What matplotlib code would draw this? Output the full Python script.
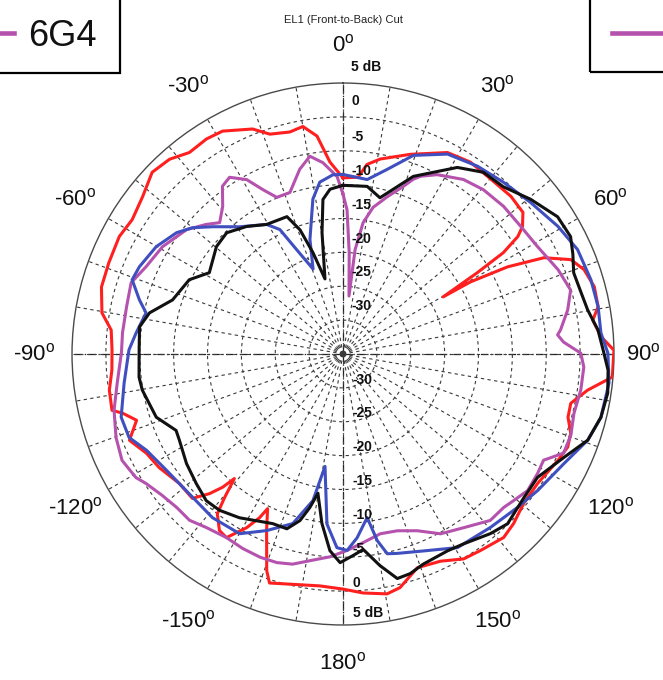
import numpy as np
import matplotlib.pyplot as plt
from matplotlib.patches import Rectangle
from matplotlib.lines import Line2D

plt.rcParams['font.family'] = ['Liberation Sans', 'DejaVu Sans']
plt.rcParams['mathtext.fontset'] = 'custom'
plt.rcParams['mathtext.rm'] = 'Liberation Sans'

# pattern data: angle in degrees (clockwise from 0 at top), level in dB
red_deg = [0, 4.9, 7.2, 10.8, 18.6, 27.4, 33.6, 40.2, 46.8, 51.8, 54.6, 56.1, 57.7, 58.8, 60.3, 60.5,
           62.1, 64.4, 67.5, 70.7, 75, 79.5, 82.3, 86.2, 89.2, 94.9, 98.4, 102.2, 105.7, 109.2, 112.5,
           116.3, 123.6, 129.6, 134.8, 138.8, 145, 149.5, 154.8, 160.8, 166.3, 169.6, 175.2, 180, 185.7,
           197.8, 199.4, 203.4, 206, 207, 209, 212.4, 215, 218.2, 219.5, 221.1, 222.1, 223.7, 226.2,
           231.6, 238.3, 243.2, 248, 252.2, 255, 256.3, 261.2, 266, 271, 275.9, 279.7, 285.5, 291.3,
           297.7, 302.5, 308.1, 313.6, 318.3, 322.7, 327.6, 331.6, 338.1, 341.6, 346.5, 350, 353.2,
           356.1, 360]
red_db = [-9.0, -8.8, -6.8, -5.7, -3.9, -1.5, -1.0, -1.2, -1.0, -1.2, -2.5, -3.9, -7.0, -11.8, -18.0, -13.4,
          -7.5, -2.1, 1.4, 2.7, 3.4, 3.3, 2.2, 3.2, 5.0, 4.9, 1.5, -0.6, -0.5, 0.6, 0.9,
          0.4, -0.5, -0.4, 0.5, 1.0, 0.4, 0.1, -1.2, -1.6, 0.5, 1.0, 0.4, -0.3, -0.6,
          0.5, -1.1, -6.6, -9.6, -7.9, -5.7, -2.9, -3.2, -5.0, -7.5, -10.6, -8.5, -6.5, -4.2,
          -4.2, -3.1, -2.5, -1.0, -3.0, -1.3, 0.1, -0.1, -0.8, -0.9, -0.6, 1.1, 2.0, 2.1,
          2.3, 1.9, 2.6, 3.9, 3.5, 2.4, 2.6, 2.4, 0.8, -0.8, -1.3, -0.9, -2.6,
          -6.6, -9.0]

blue_deg = [0, 7.9, 13.4, 19.5, 27.6, 35.6, 43.1, 51.1, 59.3, 66, 73.3, 79.5, 85.3, 89.8, 96.2, 103.8,
            109.4, 116.4, 125, 131.3, 139.6, 149.4, 157.8, 164.8, 167.5, 169.6, 171.6, 175.6, 178.8,
            181.8, 185.4, 189.1, 191.6, 196.5, 203.4, 209.9, 218.6, 228.9, 236.6, 243.9, 248.7, 254.1,
            262.4, 271.1, 275.8, 281.8, 284.9, 289.4, 293.2, 299.9, 306.1, 310, 314.3, 320.9, 329.5,
            333.1, 336.1, 340.6, 343.9, 349, 352.3, 356.8, 360]
blue_db = [-8.5, -9.0, -7.0, -3.9, -1.7, -0.9, -0.3, 0.6, 1.9, 2.9, 3.2, 3.3, 3.2, 4.1, 4.5, 4.2,
           3.3, 1.4, 0.1, -0.7, -1.4, -1.8, -3.6, -4.5, -4.8, -7.0, -10.6, -7.8, -6.0,
           -6.4, -9.8, -18.2, -12.9, -8.9, -6.6, -4.4, -4.1, -4.3, -3.8, -2.7, -1.1, -0.95,
           -2.4, -3.4, -4.3, -5.3, -3.9, -2.0, -2.3, -3.2, -4.6, -6.0, -8.1, -10.8, -12.8,
           -14.4, -18.2, -21.7, -17.4, -11.7, -9.4, -8.5, -8.5]

black_deg = [0, 8.2, 13.3, 21.6, 31.5, 37.7, 43.8, 50.5, 57.4, 62.7, 66.5, 70.6, 75.6, 79.8, 84.6, 89.1,
             93.5, 98.4, 103.8, 109.4, 115.1, 122.4, 128.5, 135.9, 140.6, 147.6, 152, 159.1, 163,
             166.4, 170.1, 174.1, 177.2, 180.8, 183.8, 187.1, 190.2, 192.2, 194.5, 197.8, 202.5,
             212.3, 218.3, 223, 228.5, 235, 242.2, 245.4, 251.3, 259.8, 263.5, 271.1, 277.6, 282,
             287.6, 295.8, 301.3, 310.3, 316.2, 322.9, 329.5, 337.8, 340.9, 343.5, 346.5, 350.2,
             352.6, 355.5, 360]
black_db = [-10.1, -10.0, -11.3, -6.8, -2.7, -1.1, -0.8, 0.9, 2.6, 2.8, 2.0, 1.1, 1.3, 1.7, 2.8, 3.4,
            4.2, 4.5, 4.2, 3.3, 1.0, -1.0, -0.9, -0.1, -0.7, -1.8, -2.1, -1.8, -1.1,
            -0.9, -3.3, -6.0, -5.2, -4.2, -5.9, -9.8, -14.1, -11.8, -9.6, -7.9, -7.9,
            -6.4, -5.6, -5.4, -6.1, -6.8, -7.7, -7.9, -5.9, -4.9, -4.7, -4.9, -4.7, -5.8,
            -8.6, -9.8, -11.9, -10.5, -10.2, -11.4, -12.8, -13.1, -15.6, -19.4, -23.6, -16.8,
            -12.0, -10.6, -10.1]

magenta_deg = [0, 1.6, 3.5, 5.9, 6.6, 8.7, 11.6, 15.7, 19.8, 21.9, 23.5, 27.7, 34.6, 40.5, 47.4, 54.3,
               61.1, 68.6, 74.3, 78.9, 83.7, 84.9, 86.9, 89.8, 93.1, 98.6, 104.4, 109.6, 114.2, 117.9,
               121.5, 126.5, 130.7, 133.7, 138.5, 145.3, 151.5, 157.2, 162.9, 168.3, 173.9, 178.8,
               183.7, 189.1, 193.5, 197.6, 202.2, 207.3, 212.4, 218.2, 222.7, 227.3, 232.1, 236.7,
               239.2, 244.3, 249.8, 256.2, 262.7, 270.5, 275.5, 282.3, 288.6, 293.9, 300.7, 308.5,
               313.5, 316.8, 320.8, 324.3, 327.3, 331.1, 334, 337.1, 341.8, 346.8, 350.5, 354, 358.1, 360]
magenta_db = [-11.4, -13.7, -20.0, -26.4, -19.5, -15.4, -12.9, -10.9, -8.7, -7.2, -6.4, -5.1, -3.7, -3.1, -2.8, -2.7,
              -2.2, -0.9, -0.1, -1.2, -2.7, -3.2, -2.4, 0.1, 0.6, 0.5, 0.2, 0.7, 0.7, -1.5,
              -1.3, -1.1, -1.8, -2.2, -2.2, -3.8, -4.8, -6.7, -7.7, -7.9, -7.0, -6.0,
              -5.0, -4.1, -3.1, -2.7, -2.6, -2.7, -2.9, -2.4, -1.6, -1.6, -1.1, -0.2,
              0.6, 1.2, 0.7, -0.2, -1.4, -2.3, -2.3, -2.3, -2.0, -3.2, -4.0, -5.5,
              -7.2, -8.4, -6.9, -4.5, -4.0, -5.6, -8.0, -9.9, -9.9, -7.0, -5.4, -6.6, -8.8, -11.4]

ring_values = [-30, -25, -20, -15, -10, -5, 0]
angle_ticks = [0, 30, 60, 90, 120, 150, 180, 210, 240, 270, 300, 330]

fig = plt.figure(figsize=(6.63, 6.80), dpi=100)
ax = fig.add_axes([0.1086, 0.0809, 0.8175, 0.797], projection='polar')
ax.set_theta_zero_location('N')
ax.set_theta_direction(-1)
ax.set_ylim(-35, 5)
ax.set_rgrids(ring_values, labels=[''] * len(ring_values))
ax.set_thetagrids(np.arange(0, 360, 10), labels=[''] * 36)
ax.grid(True, color='#3a3a3a', linestyle=(0, (3, 3)), linewidth=0.8)
ax.spines['polar'].set_color('#4a4a4a')
ax.spines['polar'].set_linewidth(1.0)

# darker main axes
for a in [0, 90, 180, 270]:
    ax.plot([np.deg2rad(a)] * 2, [-35, 5], color='#222222', lw=0.9,
            ls=(0, (6, 2, 1, 2)), zorder=1)

ax.plot(np.deg2rad(red_deg), red_db, color='#ff1f1f', lw=2.2, zorder=3)
ax.plot(np.deg2rad(magenta_deg), magenta_db, color='#b552ad', lw=2.2, zorder=4)
ax.plot(np.deg2rad(blue_deg), blue_db, color='#3f4fbf', lw=2.2, zorder=5)
ax.plot(np.deg2rad(black_deg), black_db, color='#111111', lw=2.2, zorder=6)

# radial labels, top and bottom column
for v in ring_values + [5]:
    txt = '5 dB' if v == 5 else str(v)
    dy_top = 11.5 if v >= 0 else 10
    ax.annotate(txt, xy=(0, v), xytext=(6, dy_top), textcoords='offset points',
                ha='left', va='center', fontsize=10, fontweight='bold', color='#111111',
                annotation_clip=False, zorder=7)
    dy_bot = 8.6 if v == 5 else 6
    ax.annotate(txt, xy=(np.pi, v), xytext=(7, dy_bot), textcoords='offset points',
                ha='left', va='center', fontsize=10, fontweight='bold', color='#111111',
                annotation_clip=False, zorder=7)

for a in angle_ticks:
    lab = a if a <= 180 else a - 360
    if a == 90:
        # right edge label, kept inside the canvas
        fig.text(661 / 663, 1 - 354 / 680, '%d$^{\\rm o}$' % lab, ha='right', va='center',
                 fontsize=16, color='#111111')
        continue
    ax.text(np.deg2rad(a), 10.6, '%d$^{\\rm o}$' % lab, ha='center', va='center',
            fontsize=16, color='#111111', clip_on=False)

fig.text(0.518, 1 - 20 / 680, 'EL1 (Front-to-Back) Cut', ha='center', va='center',
         fontsize=8, color='#222222')

# cropped legend boxes
fig.patches.append(Rectangle((-0.01, 1 - 73 / 680), 120 / 663 + 0.01, 73 / 680 + 0.01,
                             transform=fig.transFigure, fill=False, ec='black', lw=1.6))
fig.lines.append(Line2D([0, 14 / 663], [1 - 33 / 680] * 2, transform=fig.transFigure,
                        color='#b552ad', lw=3.3))
fig.text(28 / 663, 1 - 36 / 680, '6G4', ha='left', va='center', fontsize=26, color='#111111')
fig.patches.append(Rectangle((590 / 663, 1 - 72 / 680), 0.2, 72 / 680 + 0.01,
                             transform=fig.transFigure, fill=False, ec='black', lw=1.6))
fig.lines.append(Line2D([612 / 663, 1.0], [1 - 33 / 680] * 2, transform=fig.transFigure,
                        color='#b552ad', lw=3.3))

fig.savefig('out.png', dpi=100)
